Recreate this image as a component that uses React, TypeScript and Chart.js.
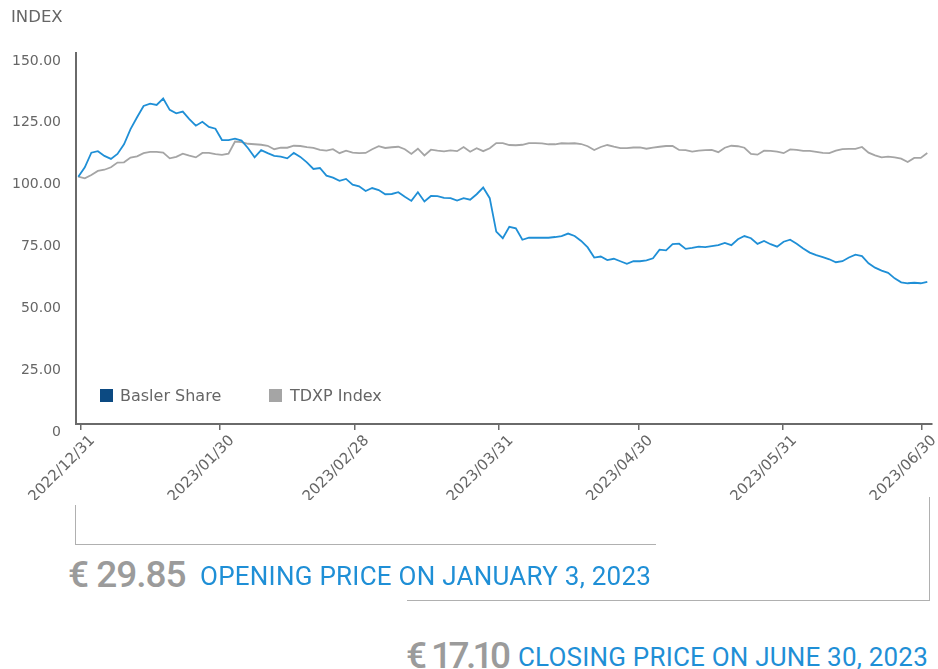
import React, { useEffect, useRef } from "react";
import { Chart, registerables } from "chart.js";

Chart.register(...registerables);

// Indexed performance (start = 100), one value per trading point
const baslerShare = [
  100.0, 103.8, 109.7, 110.3, 108.4, 107.2, 109.2, 113.1, 119.2, 124.0,
  128.6, 129.5, 129.0, 131.6, 127.0, 125.6, 126.3, 123.3, 120.6, 122.2,
  120.1, 119.4, 114.8, 114.8, 115.4, 114.6, 111.5, 107.8, 110.7, 109.5,
  108.4, 108.1, 107.4, 109.6, 108.0, 105.8, 103.1, 103.5, 100.4, 99.6,
  98.3, 99.1, 96.8, 96.1, 94.2, 95.4, 94.6, 92.9, 93.0, 93.7,
  91.9, 90.2, 93.7, 90.0, 92.2, 92.1, 91.4, 91.3, 90.3, 91.3,
  90.7, 92.9, 95.6, 91.3, 77.8, 75.1, 79.7, 79.1, 74.5, 75.3,
  75.3, 75.3, 75.3, 75.6, 76.0, 77.0, 76.0, 74.0, 71.4, 67.3,
  67.7, 66.3, 66.8, 65.8, 64.8, 65.8, 65.8, 66.2, 67.0, 70.5,
  70.2, 72.7, 72.9, 70.8, 71.2, 71.7, 71.5, 71.9, 72.3, 73.2,
  72.3, 74.7, 76.0, 75.1, 72.8, 74.0, 72.7, 71.7, 73.7, 74.5,
  72.9, 71.0, 69.3, 68.3, 67.5, 66.6, 65.4, 65.8, 67.3, 68.5,
  67.9, 65.0, 63.2, 62.0, 61.1, 58.9, 57.3, 56.9, 57.1, 56.9,
  57.5,
];

const tdxpIndex = [
  100.0, 99.3, 100.7, 102.3, 102.8, 103.8, 105.7, 105.8, 107.7, 108.2,
  109.5, 110.0, 110.0, 109.7, 107.4, 108.0, 109.3, 108.5, 107.8, 109.6,
  109.6, 109.1, 108.8, 109.3, 114.2, 114.0, 113.3, 113.1, 112.9, 112.5,
  111.1, 111.7, 111.7, 112.5, 112.4, 111.9, 111.6, 110.8, 110.5, 111.1,
  109.5, 110.5, 109.7, 109.5, 109.6, 111.1, 112.3, 111.6, 111.9, 112.1,
  111.1, 109.2, 111.3, 108.6, 110.9, 110.5, 110.2, 110.6, 110.3, 112.0,
  110.1, 111.5, 110.3, 111.5, 113.6, 113.6, 112.8, 112.7, 112.9, 113.6,
  113.6, 113.5, 113.1, 113.1, 113.5, 113.4, 113.5, 113.2, 112.3, 110.8,
  112.0, 112.8, 112.1, 111.5, 111.5, 111.8, 111.8, 111.3, 111.7, 112.1,
  112.4, 112.4, 110.8, 110.7, 110.1, 110.5, 110.7, 110.8, 109.9, 111.7,
  112.5, 112.3, 111.7, 109.2, 108.9, 110.5, 110.4, 110.1, 109.5, 111.0,
  110.8, 110.4, 110.4, 110.0, 109.6, 109.5, 110.5, 111.1, 111.2, 111.2,
  112.0, 109.7, 108.6, 107.8, 108.1, 107.8, 107.3, 105.9, 107.6, 107.6,
  109.6,
];

// Date ticks (days after 2022/12/31) and their labels
const tickDays = [0, 30, 59, 90, 120, 151, 181];
const tickLabels = [
  "2022/12/31",
  "2023/01/30",
  "2023/02/28",
  "2023/03/31",
  "2023/04/30",
  "2023/05/31",
  "2023/06/30",
];
const yTickValues = [0, 25, 50, 75, 100, 125, 150];

const seriesNames = ["Basler Share", "TDXP Index"];
const lineColors = ["#1f8fd6", "#a5a5a5"];
const legendColors = ["#0c4a82", "#a5a5a5"];

const TICK_FONT = "'DejaVu Sans', sans-serif";
const NOTE_FONT = "Roboto, 'DejaVu Sans', sans-serif";

export default function App() {
  const canvasRef = useRef<HTMLCanvasElement | null>(null);

  useEffect(() => {
    const canvas = canvasRef.current;
    if (!canvas) return;
    const chart = new Chart(canvas, {
      type: "line",
      data: {
        datasets: [
          {
            label: seriesNames[0],
            data: baslerShare.map((v, i) => ({ x: i, y: v })),
            borderColor: lineColors[0],
            backgroundColor: lineColors[0],
            borderWidth: 1.8,
            pointRadius: 0,
            tension: 0,
            xAxisID: "xIdx",
          },
          {
            label: seriesNames[1],
            data: tdxpIndex.map((v, i) => ({ x: i, y: v })),
            borderColor: lineColors[1],
            backgroundColor: lineColors[1],
            borderWidth: 1.8,
            pointRadius: 0,
            tension: 0,
            xAxisID: "xIdx",
          },
        ],
      },
      options: {
        animation: false,
        responsive: false,
        maintainAspectRatio: false,
        layout: { padding: { top: 53, right: 6, left: 0, bottom: 0 } },
        plugins: {
          legend: { display: false },
          tooltip: { enabled: false },
        },
        scales: {
          xIdx: {
            type: "linear",
            display: false,
            min: -0.35,
            max: baslerShare.length - 1 + 0.72,
          },
          x: {
            type: "linear",
            position: "bottom",
            min: -0.97,
            max: 183.15,
            afterBuildTicks: (axis: any) => {
              axis.ticks = tickDays.map((v) => ({ value: v }));
            },
            afterFit: (scale: any) => {
              scale.height = 76;
            },
            grid: {
              drawOnChartArea: false,
              drawTicks: true,
              tickLength: 6,
              color: "#6a6a6a",
              lineWidth: 1.5,
            },
            border: { display: true, color: "#6a6a6a", width: 2 },
            ticks: {
              autoSkip: false,
              minRotation: 45,
              maxRotation: 45,
              padding: 2,
              labelOffset: 12,
              color: "#666",
              font: { family: TICK_FONT, size: 15 },
              callback: (v: any) => {
                const i = tickDays.indexOf(Number(v));
                return i >= 0 ? tickLabels[i] : "";
              },
            },
          },
          y: {
            type: "linear",
            min: 0,
            max: 150,
            afterBuildTicks: (axis: any) => {
              axis.ticks = yTickValues.map((v) => ({ value: v }));
            },
            afterFit: (scale: any) => {
              scale.width = 76;
            },
            grid: { display: false, drawTicks: false },
            border: { display: true, color: "#6a6a6a", width: 2 },
            ticks: {
              padding: 15,
              labelOffset: 8,
              color: "#666",
              font: { family: TICK_FONT, size: 14 },
              callback: (v: any) => (Number(v) === 0 ? "0" : Number(v).toFixed(2)),
            },
          },
        },
      },
    });
    return () => chart.destroy();
  }, []);

  const abs = (s: React.CSSProperties): React.CSSProperties => ({
    position: "absolute",
    whiteSpace: "nowrap",
    margin: 0,
    ...s,
  });

  return (
    <div style={{ position: "absolute", left: 0, top: 0, width: 938, height: 669, background: "#fff", overflow: "hidden" }}>
      <canvas
        ref={canvasRef}
        width={938}
        height={500}
        style={{ position: "absolute", left: 0, top: 0, width: 938, height: 500 }}
      />
      <div style={abs({ left: 11, top: 7, fontFamily: TICK_FONT, fontSize: 16.5, lineHeight: "20px", color: "#666" })}>
        INDEX
      </div>

      {/* legend */}
      <div style={abs({ left: 100, top: 389, width: 13, height: 13, background: legendColors[0] })} />
      <div style={abs({ left: 120, top: 386, fontFamily: TICK_FONT, fontSize: 16, lineHeight: "20px", color: "#666" })}>
        {seriesNames[0]}
      </div>
      <div style={abs({ left: 269, top: 389, width: 13, height: 13, background: legendColors[1] })} />
      <div style={abs({ left: 290, top: 386, fontFamily: TICK_FONT, fontSize: 16, lineHeight: "20px", color: "#666" })}>
        {seriesNames[1]}
      </div>

      {/* bracket 1 */}
      <div style={abs({ left: 75, top: 505, width: 580, height: 39, borderLeft: "1px solid #b0b0b0", borderBottom: "1px solid #b0b0b0" })} />
      <div style={abs({ left: 68, top: 556, fontFamily: NOTE_FONT, fontSize: 37, lineHeight: "37px", fontWeight: 500, color: "#9b9b9b", letterSpacing: -1 })}>
        € 29.85
      </div>
      <div style={abs({ left: 200, top: 563, fontFamily: NOTE_FONT, fontSize: 26, lineHeight: "26px", color: "#1f8fd6", letterSpacing: 0.25 })}>
        OPENING PRICE ON JANUARY 3, 2023
      </div>

      {/* bracket 2 */}
      <div style={abs({ left: 407, top: 497, width: 522, height: 103, borderRight: "1px solid #b0b0b0", borderBottom: "1px solid #b0b0b0" })} />
      <div style={abs({ left: 406, top: 637, fontFamily: NOTE_FONT, fontSize: 37, lineHeight: "37px", fontWeight: 500, color: "#9b9b9b", letterSpacing: -3.6, wordSpacing: 2 })}>
        € 17.10
      </div>
      <div style={abs({ left: 518, top: 644, fontFamily: NOTE_FONT, fontSize: 26, lineHeight: "26px", color: "#1f8fd6", letterSpacing: 0.2 })}>
        CLOSING PRICE ON JUNE 30, 2023
      </div>
    </div>
  );
}
